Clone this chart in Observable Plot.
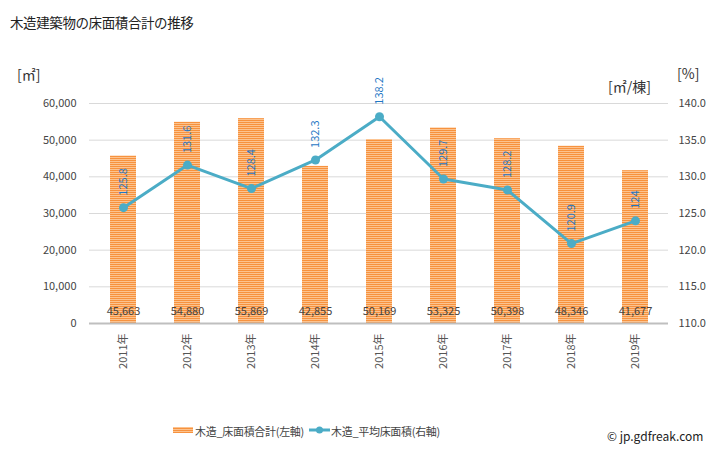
<!DOCTYPE html>
<html><head><meta charset="utf-8">
<script src="https://cdn.jsdelivr.net/npm/d3@7"></script>
<script src="https://cdn.jsdelivr.net/npm/@observablehq/plot@0.6"></script>
<style>
body{margin:0;background:#fff;font-family:"Noto Sans CJK JP",sans-serif;}
#wrap{position:relative;width:728px;height:450px;overflow:hidden;}
.t{position:absolute;white-space:nowrap;color:#333;}
</style></head>
<body><div id="wrap"></div>
<script>
const years = ["2011年","2012年","2013年","2014年","2015年","2016年","2017年","2018年","2019年"];
const totalArea = [45663,54880,55869,42855,50169,53325,50398,48346,41677];
const avgArea = [125.8,131.6,128.4,132.3,138.2,129.7,128.2,120.9,124];
const avgLabels = ["125.8","131.6","128.4","132.3","138.2","129.7","128.2","120.9","124"];
const leftTicks = [0,10000,20000,30000,40000,50000,60000];
const rightTicks = [110,115,120,125,130,135,140];

const rMin = 110, rMax = 140, lMax = 60000;
const toLeft = v => (v - rMin) / (rMax - rMin) * lMax;

const bars = years.map((y,i)=>({year:y, v: totalArea[i]}));
const pts = years.map((y,i)=>({year:y, v: toLeft(avgArea[i]), label: avgLabels[i]}));

const plot = Plot.plot({
  width: 728, height: 450,
  marginTop: 103, marginBottom: 127, marginLeft: 89, marginRight: 60,
  style: {fontFamily: '"Noto Sans CJK JP", sans-serif', background: "#fff"},
  x: {domain: years, paddingInner: 0.6, paddingOuter: 0.3, label: null},
  y: {domain: [0, lMax], label: null},
  marks: [
    Plot.gridY(leftTicks, {stroke: "#d9d9d9", strokeOpacity: 1, strokeWidth: 1}),
    Plot.barY(bars, {x: "year", y: "v", fill: "url(#stripes)"}),
    Plot.ruleY([0], {stroke: "#bfbfbf", strokeWidth: 2}),
    Plot.axisY(leftTicks, {anchor: "left", tickSize: 0, tickPadding: 13, fontSize: 11, fill: "#444", tickFormat: d => d3.format(",")(d), label: null}),
    Plot.axisY(rightTicks.map(toLeft), {anchor: "right", tickSize: 0, tickPadding: 10, fontSize: 11, fill: "#444", tickFormat: d => (d / lMax * (rMax - rMin) + rMin).toFixed(1), label: null}),
    Plot.axisX({anchor: "bottom", tickSize: 0, tickPadding: 10, tickRotate: -90, fontSize: 11, fill: "#555", label: null}),
    Plot.text(bars, {x: "year", y: 0, text: d => d3.format(",")(d.v), dy: -12, fontSize: 11, fill: "#444"}),
    Plot.line(pts, {x: "year", y: "v", stroke: "#4bacc6", strokeWidth: 3}),
    Plot.dot(pts, {x: "year", y: "v", r: 4.5, fill: "#4bacc6"}),
    Plot.text(pts, {x: "year", y: "v", text: "label", rotate: -90, textAnchor: "start", dx: 0, dy: -12, fontSize: 11, fill: "#1f77c4"})
  ]
});

// stripes pattern for bars
const svg = d3.select(plot);
const defs = svg.insert("defs", ":first-child");
const pat = defs.append("pattern").attr("id","stripes").attr("patternUnits","userSpaceOnUse").attr("width",4).attr("height",2);
pat.append("rect").attr("width",4).attr("height",2).attr("fill","#fcc38f");
pat.append("rect").attr("width",4).attr("height",1).attr("fill","#f7923e");

const wrap = document.getElementById("wrap");
wrap.appendChild(plot);

function addText(txt, css){
  const d = document.createElement("div");
  d.className = "t"; d.textContent = txt; d.style.cssText += css; wrap.appendChild(d);
  return d;
}
addText("木造建築物の床面積合計の推移", "left:10px;top:12px;font-size:13.5px;color:#222;letter-spacing:-0.4px;");
addText("[㎡]", "left:17px;top:64px;font-size:14px;color:#333;");
addText("[㎡/棟]", "left:608px;top:76px;font-size:14px;color:#333;");
addText("[%]", "left:677px;top:63px;font-size:14px;color:#333;");

// legend
const lg = document.createElement("div");
lg.style.cssText = "position:absolute;left:0;top:422px;width:728px;height:16px;";
lg.innerHTML = `<svg width="728" height="16" style="position:absolute;left:0;top:0">
<defs><pattern id="stripesL" patternUnits="userSpaceOnUse" width="4" height="2"><rect width="4" height="2" fill="#fcc38f"/><rect width="4" height="1" fill="#f7923e"/></pattern></defs>
<rect x="173" y="5" width="20" height="6" fill="url(#stripesL)"/>
<line x1="309" y1="8" x2="330" y2="8" stroke="#4bacc6" stroke-width="3"/>
<circle cx="319.5" cy="8" r="3.5" fill="#4bacc6"/></svg>`;
wrap.appendChild(lg);
addText("木造_床面積合計(左軸)", "left:195px;top:423px;font-size:11px;color:#444;letter-spacing:-0.3px;");
addText("木造_平均床面積(右軸)", "left:331px;top:423px;font-size:11px;color:#444;letter-spacing:-0.3px;");
addText("© jp.gdfreak.com", "left:607px;top:427px;font-size:12px;color:#222;");
</script></body></html>
